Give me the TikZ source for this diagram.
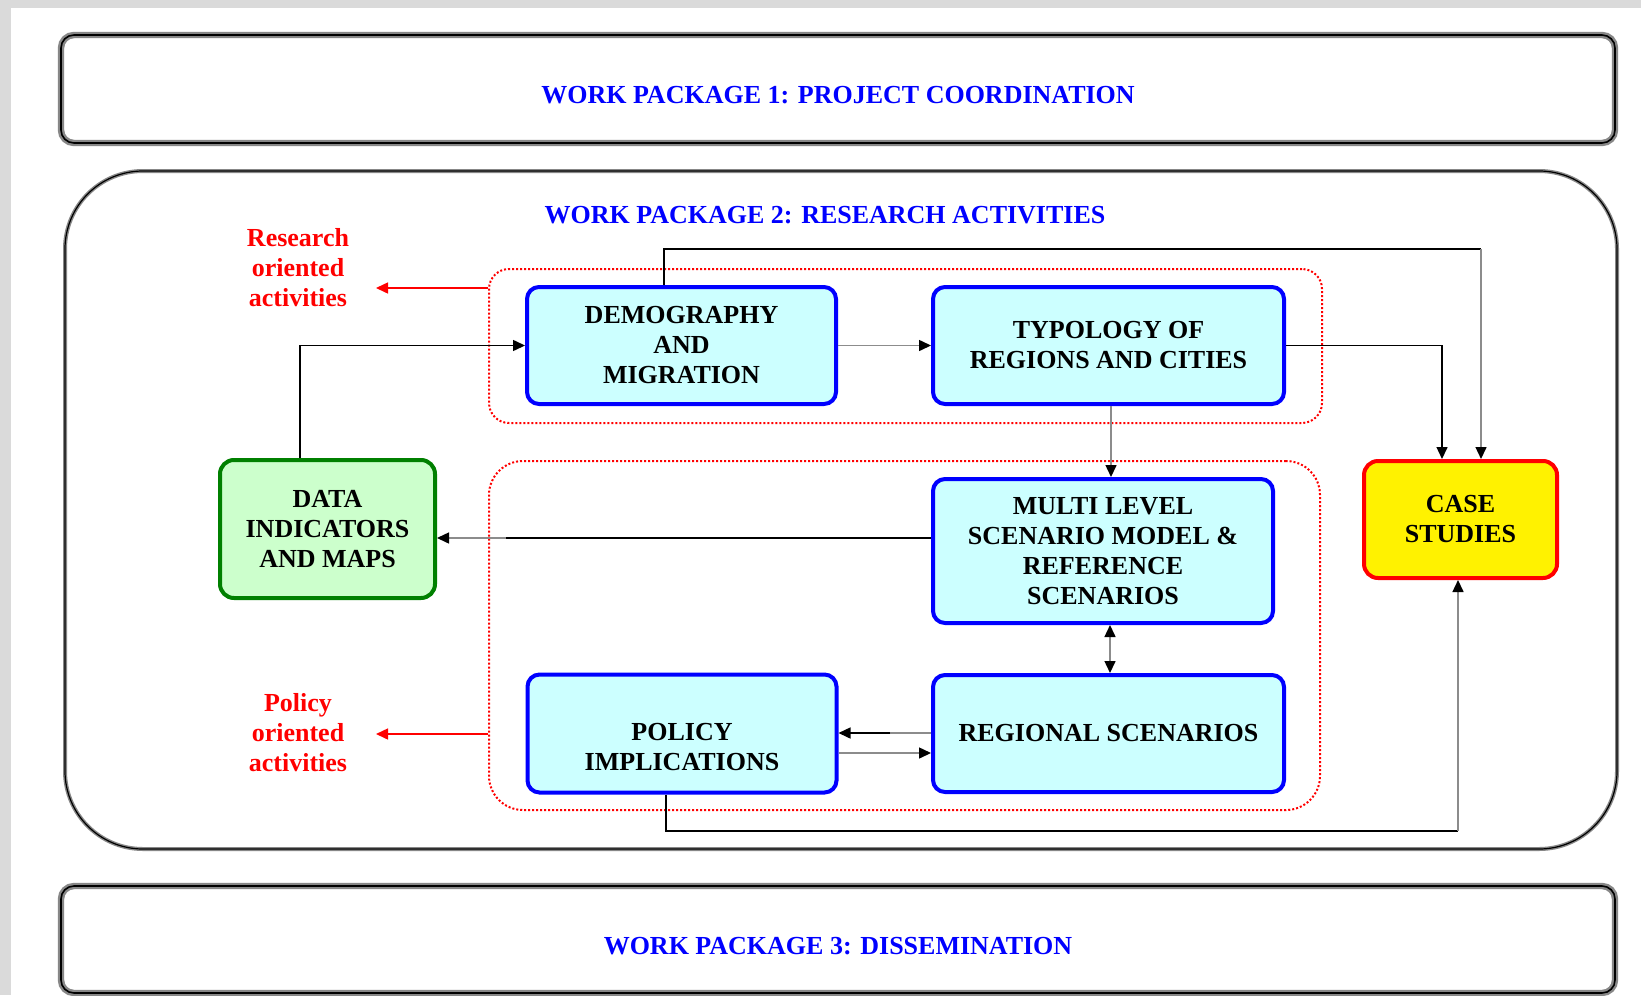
\documentclass[tikz,border=0pt]{standalone}
\usepackage{fontspec}
\setmainfont{Liberation Serif}
\usetikzlibrary{arrows.meta}
\definecolor{WPBlue}{RGB}{0,0,255}
\definecolor{CyanFill}{RGB}{204,255,255}
\definecolor{GreenFill}{RGB}{204,255,204}
\definecolor{GreenLine}{RGB}{0,128,0}
\definecolor{PageGray}{RGB}{218,218,218}
\definecolor{LineGray}{RGB}{140,140,140}
\definecolor{FrameGray}{RGB}{135,135,135}
\begin{document}
\begin{tikzpicture}[x=0.5pt,y=-0.5pt,
  font=\fontsize{13pt}{15pt}\selectfont\bfseries,
  every node/.style={align=center, inner sep=0pt},
  wpframe/.style={draw=FrameGray, double=black, line width=1.2pt, double distance=0.8pt},
  wpframetwo/.style={draw=FrameGray, double=black, line width=0.7pt, double distance=0.6pt},
  wptext/.style={text=WPBlue},
  bluebox/.style={draw=WPBlue, fill=CyanFill, line width=2pt, rounded corners=6pt},
  greenbox/.style={draw=GreenLine, fill=GreenFill, line width=2pt, rounded corners=7pt},
  casebox/.style={draw=red, fill=yellow, line width=2pt, rounded corners=7pt},
  reddot/.style={draw=red, line width=1pt, dash pattern=on 1pt off 1pt},
  redtext/.style={text=red},
  conn/.style={line width=0.75pt, draw=black},
  tip/.style={-{Triangle[length=6pt,width=5.5pt,color=black]}},
  redtip/.style={-{Triangle[length=6pt,width=5.5pt,color=red]}},
  both/.style={{Triangle[length=6pt,width=5.5pt,color=black]}-{Triangle[length=6pt,width=5.5pt,color=black]}}
]
% page
\fill[PageGray] (0,0) rectangle (1641,995);
\fill[white] (11,8) rectangle (1641,995);
\useasboundingbox (0,0) rectangle (1641,995);

% work package frames
\draw[wpframe, rounded corners=6.5pt] (61,35) rectangle (1615,143);
\node[wptext] (wp1) at (838,95) {WORK PACKAGE 1: PROJECT COORDINATION};
\draw[wpframetwo, rounded corners=39pt] (65,171) rectangle (1617,849);
\node[wptext] (wp2) at (825,215) {WORK PACKAGE 2: RESEARCH ACTIVITIES};
\draw[wpframe, rounded corners=6.5pt] (61,886) rectangle (1615,993);
\node[wptext] (wp3) at (838,946) {WORK PACKAGE 3: DISSEMINATION};

% dotted groups
\node[reddot, rounded corners=10pt, minimum width=416.5pt, minimum height=77pt] (resgrp) at (905.5,346) {};
\node[reddot, rounded corners=17pt, minimum width=415.5pt, minimum height=174.5pt] (polgrp) at (904.5,635.5) {};

% boxes
\node[bluebox, minimum width=154.5pt, minimum height=58.5pt] (demo) at (681.5,345.5) {DEMOGRAPHY\\AND\\MIGRATION};
\node[bluebox, minimum width=175.5pt, minimum height=58.5pt] (typo) at (1108.5,345.5) {TYPOLOGY OF\\REGIONS AND CITIES};
\node[bluebox, minimum width=170pt, minimum height=72pt] (multi) at (1103,551) {MULTI LEVEL\\SCENARIO MODEL \&\\REFERENCE\\SCENARIOS};
\node[casebox, minimum width=96.5pt, minimum height=58.5pt] (case) at (1460.5,519.5) {CASE\\STUDIES};
\node[greenbox, minimum width=107.5pt, minimum height=69pt] (data) at (327.5,529) {DATA\\INDICATORS\\AND MAPS};
\node[bluebox, minimum width=154.5pt, minimum height=59pt] (policy) at (682,733.5) {};
\node (policytext) at (682,747) {POLICY\\IMPLICATIONS};
\node[bluebox, minimum width=175.5pt, minimum height=58.5pt] (regional) at (1108.5,733.5) {REGIONAL SCENARIOS};

% red labels
\node[redtext] (reslabel) at (298,268) {Research\\oriented\\activities};
\node[redtext] (pollabel) at (298,733) {Policy\\oriented\\activities};
\coordinate (resend) at (376,288);
\coordinate (polend) at (376,734);
\draw[red, line width=0.75pt, redtip] (resgrp.west |- resend) -- (resend);
\draw[red, line width=0.75pt, redtip] (polgrp.west |- polend) -- (polend);

% connectors
\coordinate (c1a) at (664,249);
\coordinate (c1b) at (1481,249);
\draw[conn] (c1a |- demo.north) -- (c1a) -- (c1b);
\draw[conn, draw=LineGray, tip] (c1b) -- (c1b |- case.north);

\coordinate (c2) at (1442,345.5);
\draw[conn, tip] (typo.east) -- (c2) -- (c2 |- case.north);

\draw[conn, draw=LineGray, tip] (demo.east) -- (typo.west);

\coordinate (c4) at (300,345.5);
\draw[conn, tip] (c4 |- data.north) -- (c4) -- (demo.west);

\coordinate (c5) at (1111,400);
\draw[conn, draw=LineGray, tip] (c5 |- typo.south) -- (c5 |- multi.north);

\coordinate (c6) at (506,538);
\draw[conn] (multi.west |- c6) -- (c6);
\draw[conn, draw=LineGray, tip] (c6) -- (data.east |- c6);

\coordinate (c7) at (1110,650);
\draw[conn, draw=LineGray, both] (c7 |- multi.south) -- (c7 |- regional.north);

\coordinate (c8) at (890,733);
\draw[conn, draw=LineGray] (regional.west |- c8) -- (c8);
\draw[conn, tip] (c8) -- (policy.east |- c8);

\coordinate (c9) at (880,753);
\draw[conn, draw=LineGray, tip] (policy.east |- c9) -- (regional.west |- c9);

\coordinate (c10a) at (666,831);
\coordinate (c10b) at (1458,831);
\draw[conn] (c10a |- policy.south) -- (c10a) -- (c10b);
\draw[conn, draw=LineGray, tip] (c10b) -- (c10b |- case.south);
\end{tikzpicture}
\end{document}
